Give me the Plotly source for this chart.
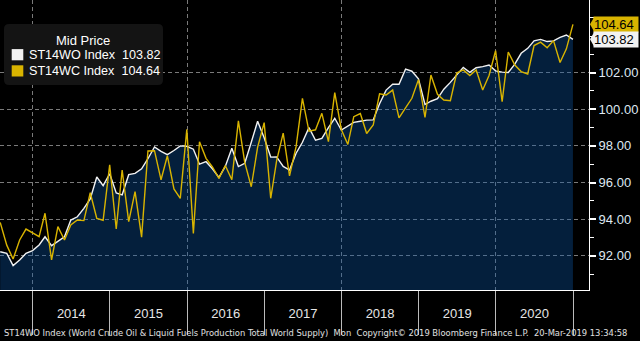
import pandas as pd
import plotly.graph_objects as go

# Monthly observations, Jul 2013 .. Dec 2020 (month-end dates)
months = pd.date_range(start="2013-07-01", periods=90, freq="MS") + pd.offsets.MonthEnd(0)

st14wo = [92.22, 92.13, 91.46, 91.77, 92.13, 92.28, 92.59, 93.04, 92.55, 92.77,
          93.04, 93.95, 94.13, 94.59, 95.10, 96.30, 95.83, 96.48, 95.43, 95.33,
          96.43, 96.50, 96.75, 97.30, 97.94, 97.70, 97.52, 97.75, 98.00, 97.98,
          97.82, 97.00, 97.14, 96.75, 96.28, 96.88, 97.87, 96.87, 97.05, 98.20,
          99.35, 98.45, 97.39, 97.40, 96.88, 96.68, 97.60, 98.20, 99.00, 98.31,
          98.41, 99.00, 99.51, 98.87, 99.07, 99.29, 99.35, 99.41, 99.42, 100.30,
          101.05, 101.37, 101.37, 102.19, 102.08, 101.67, 100.26, 100.44, 100.58, 101.10,
          101.47, 101.90, 102.29, 102.02, 102.27, 102.33, 102.42, 102.10, 102.03, 102.01,
          102.47, 103.06, 103.33, 103.74, 103.82, 103.70, 103.74, 103.93, 104.06, 103.82]

st14wc = [93.82, 92.58, 91.82, 92.86, 93.46, 93.26, 93.04, 94.32, 91.77, 93.59,
          92.86, 93.68, 93.95, 93.92, 95.44, 94.04, 93.94, 96.97, 93.46, 96.68,
          93.86, 95.50, 93.02, 97.72, 97.74, 96.15, 97.46, 95.65, 95.13, 98.90,
          93.22, 98.23, 97.32, 96.85, 96.23, 96.93, 96.15, 99.37, 97.10, 95.77,
          97.93, 99.27, 95.14, 97.20, 98.70, 96.36, 97.96, 100.60, 98.80, 98.88,
          99.78, 98.23, 100.91, 98.90, 98.08, 99.60, 99.77, 98.68, 99.14, 100.84,
          100.78, 101.05, 99.53, 100.08, 100.60, 101.62, 99.56, 101.87, 100.82, 100.51,
          100.47, 101.98, 102.15, 101.84, 102.15, 101.05, 101.85, 103.20, 100.42, 103.13,
          102.42, 102.06, 101.93, 103.48, 103.67, 103.36, 103.75, 102.56, 103.30, 104.64]

series_names = ["ST14WO Index", "ST14WC Index"]
legend_title = "Mid Price"
y_tick_vals = [92, 94, 96, 98, 100, 102]
x_range = ["2013-07-30", "2021-03-17"]
y_range = [90.13, 105.97]
footer = ("ST14WO Index (World Crude Oil & Liquid Fuels Production Total World Supply)"
          "\u00a0\u00a0Mon\u00a0\u00a0Copyright\u00a9 2019 Bloomberg Finance L.P.\u00a0\u00a020-Mar-2019 13:34:58")

WHITE = "#f2f2f2"
YELLOW = "#D9B400"
GRID = "#7a7a7a"
FONT = "Liberation Sans"

# plot-area size in pixels (for placing the legend box in paper units)
PW, PH = 589.0, 290.0
def px(x):
    return x / PW
def py(y):
    return 1 - y / PH

fig = go.Figure()

fig.add_trace(go.Scatter(x=months, y=st14wo, mode="lines",
                         line=dict(color=WHITE, width=1.4),
                         fill="tozeroy", fillcolor="rgba(11,89,171,0.35)",
                         showlegend=False, hoverinfo="skip"))
fig.add_trace(go.Scatter(x=months, y=st14wc, mode="lines", xaxis="x2",
                         line=dict(color=YELLOW, width=1.4),
                         showlegend=False, hoverinfo="skip"))

# custom legend box (rounded)
x0, x1, y0, y1, r = 4, 163, 24, 85, 5
path = (f"M {px(x0 + r)} {py(y0)} L {px(x1 - r)} {py(y0)} "
        f"Q {px(x1)} {py(y0)} {px(x1)} {py(y0 + r)} L {px(x1)} {py(y1 - r)} "
        f"Q {px(x1)} {py(y1)} {px(x1 - r)} {py(y1)} L {px(x0 + r)} {py(y1)} "
        f"Q {px(x0)} {py(y1)} {px(x0)} {py(y1 - r)} L {px(x0)} {py(y0 + r)} "
        f"Q {px(x0)} {py(y0)} {px(x0 + r)} {py(y0)} Z")
fig.add_shape(type="path", xref="paper", yref="paper", path=path, layer="above",
              fillcolor="#141414", line=dict(width=0))
fig.add_annotation(xref="paper", yref="paper", x=px(83), y=py(40.5), xanchor="center",
                   yanchor="middle", text=legend_title, showarrow=False,
                   font=dict(family=FONT, size=13, color="#ffffff"))
for i, (name, vals, col) in enumerate([(series_names[0], st14wo, WHITE),
                                       (series_names[1], st14wc, YELLOW)]):
    yc = 54.7 + i * 16.2
    fig.add_shape(type="rect", xref="paper", yref="paper", layer="above",
                  x0=px(11.7), x1=px(23.3), y0=py(yc - 5.6), y1=py(yc + 5.6),
                  fillcolor=col, line=dict(width=0))
    fig.add_annotation(xref="paper", yref="paper", x=px(26.5), y=py(yc), xanchor="left",
                       yanchor="middle", text=f"{name}\u00a0 {vals[-1]:.2f}", showarrow=False,
                       font=dict(family=FONT, size=12.6, color="#ffffff"))

# last-value tags on the right axis
for vals, col in [(st14wc, YELLOW), (st14wo, WHITE)]:
    v = vals[-1]
    fig.add_annotation(xref="paper", yref="y", x=1, y=v, xanchor="left", yanchor="middle",
                       xshift=4, text=f"{v:.2f}", showarrow=False, bgcolor=col,
                       width=44, align="left", borderpad=0,
                       font=dict(family=FONT, size=13, color="#000000"))
    fig.add_shape(type="path", xref="paper", yref="y", layer="above",
                  path=f"M 1.0017 {v} L 1.0085 {v + 0.38} L 1.0085 {v - 0.38} Z",
                  fillcolor=col, line=dict(width=0))

fig.add_annotation(xref="paper", yref="paper", x=px(1.5), y=-0.148, xanchor="left",
                   yanchor="middle", text=footer, showarrow=False,
                   font=dict(family="Liberation Sans Narrow, DejaVu Sans Condensed, Liberation Sans",
                             size=9.3, color="#e0e0e0"))

fig.update_layout(
    width=640, height=341,
    margin=dict(l=0, r=51, t=0, b=51),
    paper_bgcolor="#000000", plot_bgcolor="#000000",
    font=dict(family=FONT, size=13, color="#f0f0f0"),
    showlegend=False,
    xaxis=dict(type="date", range=x_range, showgrid=False, zeroline=False,
               ticks="", dtick="M12", tick0="2014-01-01", ticklabelmode="period",
               tickformat="%Y", tickfont=dict(size=13, color="#e6e6e6"),
               ticklabelstandoff=11,
               showline=True, linecolor="#ffffff", linewidth=1),
    xaxis2=dict(type="date", range=x_range, overlaying="x", anchor="y", side="bottom",
                showticklabels=False, zeroline=False, showline=False,
                dtick="M24", tick0="2014-01-01", showgrid=True, gridcolor=GRID,
                griddash="4px,3px", gridwidth=1,
                ticks="outside", ticklen=44, tickcolor="#bbbbbb", tickwidth=1,
                minor=dict(dtick="M12", tick0="2014-01-01", ticks="outside", ticklen=44,
                           tickcolor="#bbbbbb", tickwidth=1, showgrid=False)),
    yaxis=dict(side="right", range=y_range, tickvals=y_tick_vals, tickformat=".2f",
               showgrid=True, gridcolor=GRID, griddash="4px,3px", gridwidth=1,
               zeroline=False, ticks="outside", ticklen=6, tickwidth=2, tickcolor="#ffffff",
               tickfont=dict(size=13, color="#dfe8f2"),
               showline=True, linecolor="#ffffff", linewidth=1,
               minor=dict(dtick=1, ticks="outside", ticklen=4, tickcolor="#ffffff",
                          tickwidth=1, showgrid=False)),
)

fig.write_html("out.html")
